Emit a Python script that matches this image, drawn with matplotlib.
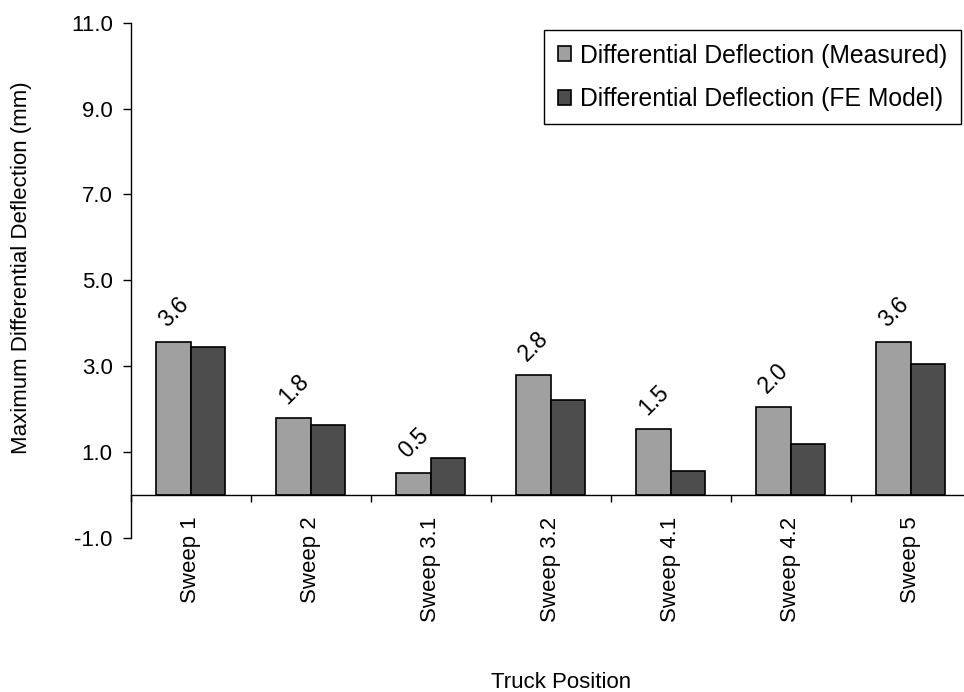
import numpy as np
import matplotlib.pyplot as plt

plt.rcParams['font.family'] = ['Liberation Sans', 'DejaVu Sans']

# Data
# -------------------------------------------------------------
positions = ['Sweep 1', 'Sweep 2', 'Sweep 3.1', 'Sweep 3.2', 'Sweep 4.1', 'Sweep 4.2', 'Sweep 5']
measured = [3.57, 1.79, 0.52, 2.80, 1.54, 2.04, 3.57]
fe_model = [3.44, 1.63, 0.86, 2.22, 0.55, 1.20, 3.06]
yticks = [-1.0, 1.0, 3.0, 5.0, 7.0, 9.0, 11.0]
# -------------------------------------------------------------

W, H = 964, 692
fig = plt.figure(figsize=(W / 100, H / 100), dpi=100)
ax = fig.add_axes([130.7 / W, 1 - 538 / H, (971 - 130.7) / W, (538 - 22.7) / H])

# spine position first: it resets the ticks
for s in ['top', 'right']:
    ax.spines[s].set_visible(False)
ax.spines['bottom'].set_position(('data', 0))
ax.spines['left'].set_linewidth(1)
ax.spines['bottom'].set_linewidth(1)

x = np.arange(len(positions))
bw = 0.2875
b1 = ax.bar(x - bw / 2, measured, bw, color='#a0a0a0', edgecolor='black', linewidth=1.2,
            label='Differential Deflection (Measured)')
b2 = ax.bar(x + bw / 2, fe_model, bw, color='#4d4d4d', edgecolor='black', linewidth=1.2,
            label='Differential Deflection (FE Model)')

ax.bar_label(b1, fmt='%.1f', rotation=45, padding=7, fontsize=16.5)

ax.set_xlim(-0.5, len(positions) - 0.5)
ax.set_ylim(-1, 11)
ax.set_yticks(yticks)
ax.set_yticklabels([f'{v:.1f}' for v in yticks], fontsize=16)

ax.set_xticks(x)
ax.set_xticklabels(positions, rotation=90, fontsize=16, va='top')
ax.set_xticks(np.arange(-0.5, len(positions)), minor=True)
ax.tick_params(axis='x', which='major', length=0, pad=15.5)
ax.tick_params(axis='x', which='minor', length=5, width=1, direction='out')
ax.tick_params(axis='y', length=5.5, width=1, direction='out', pad=7.5)

fig.text(22 / W, 1 - 268 / H, 'Maximum Differential Deflection (mm)', rotation=90,
         ha='center', va='center', fontsize=16)
fig.text(561 / W, 1 - 688 / H, 'Truck Position', ha='center', va='baseline', fontsize=16)

leg = ax.legend(loc='upper right', bbox_to_anchor=(961 / W, 1 - 30 / H),
                bbox_transform=fig.transFigure, borderaxespad=0, fancybox=False,
                edgecolor='black', framealpha=1, fontsize=17.8, handlelength=0.55,
                handleheight=0.55, handletextpad=0.35, labelspacing=0.78, borderpad=0.55)
leg.get_frame().set_linewidth(1)

plt.savefig('out.png', dpi=100)
